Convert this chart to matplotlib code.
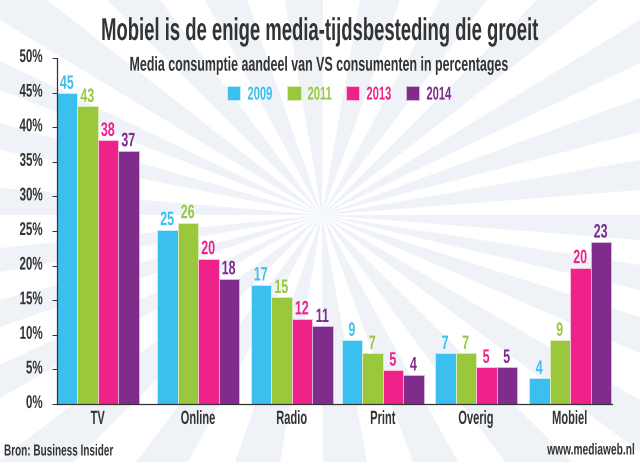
#!/usr/bin/env python3
"""Mobiel vs other media, share of US consumer media time."""
import numpy as np
import matplotlib
matplotlib.use("Agg")
import matplotlib.pyplot as plt
from matplotlib.patches import Wedge
from matplotlib.patheffects import AbstractPathEffect
from matplotlib.transforms import Affine2D

W, H = 640, 462
DARK = "#333333"

categories = ["TV", "Online", "Radio", "Print", "Overig", "Mobiel"]
years = ["2009", "2011", "2013", "2014"]
colors = ["#3bbfef", "#99c83d", "#ee2289", "#7f2c8c"]
edges = ["#c5ecfa", "#dcedb8", "#fac0dc", "#d5b5da"]

v2009 = [44.9, 25.2, 17.2, 9.2, 7.3, 3.7]
v2011 = [43.0, 26.2, 15.4, 7.3, 7.3, 9.2]
v2013 = [38.1, 21.0, 12.3, 4.9, 5.3, 19.7]
v2014 = [36.6, 18.1, 11.2, 4.2, 5.3, 23.4]

l2009 = ["45", "25", "17", "9", "7", "4"]
l2011 = ["43", "26", "15", "7", "7", "9"]
l2013 = ["38", "20", "12", "5", "5", "20"]
l2014 = ["37", "18", "11", "4", "5", "23"]

yticks = [0, 5, 10, 15, 20, 25, 30, 35, 40, 45, 50]

# left edge of each bar group and bar width, in pixels
group_left = [56.7, 157, 250.7, 341.7, 435, 529]
bar_w = 20.5

# background rays: where each one meets the picture border, clockwise from top left
ray_center = (322, 215)
ray_edges = [
    ((0, 20), (47, 0)), ((107, 0), (160, 0)), ((205, 0), (247, 0)), ((285, 0), (323, 0)),
    ((360, 0), (400, 0)), ((440, 0), (487, 0)), ((537, 0), (598, 0)),
    ((640, 20), (640, 63)), ((640, 98), (640, 132)), ((640, 160), (640, 190)),
    ((640, 215), (640, 240)), ((640, 265), (640, 290)), ((640, 317), (640, 353)),
    ((640, 400), (640, 452)),
    ((572, 462), (505, 462)), ((458, 462), (413, 462)), ((367, 462), (323, 462)),
    ((280, 462), (235, 462)), ((188, 462), (136, 462)), ((74, 462), (0, 460)),
    ((0, 398), (0, 365)), ((0, 327), (0, 300)), ((0, 272), (0, 248)),
    ((0, 215), (0, 188)), ((0, 150), (0, 123)), ((0, 90), (0, 61)),
]


class Squeeze(AbstractPathEffect):
    """No condensed font is installed, so reshape the glyphs at draw time."""

    def __init__(self, sx, ha, sy=1.0):
        super().__init__()
        self.sx = sx
        self.sy = sy
        self.ha = ha

    def draw_path(self, renderer, gc, tpath, affine, rgbFace=None):
        xs = tpath.vertices[:, 0]
        pivot = {"left": xs.min(), "center": (xs.min() + xs.max()) / 2, "right": xs.max()}[self.ha]
        sq = Affine2D().translate(-pivot, 0).scale(self.sx, self.sy).translate(pivot, 0)
        renderer.draw_path(gc, tpath, sq + affine, rgbFace)


def narrow(t, sx, sy=1.0):
    t.set_path_effects([Squeeze(sx, t.get_ha(), sy)])
    return t


def border_angle(p):
    return np.degrees(np.arctan2(p[1] - ray_center[1], p[0] - ray_center[0]))


plt.rcParams["font.family"] = ["Liberation Sans", "DejaVu Sans"]
plt.rcParams["font.weight"] = "bold"

fig = plt.figure(figsize=(W / 100, H / 100), dpi=100, facecolor="white")

# sunburst behind everything
bg = fig.add_axes([0, 0, 1, 1])
bg.set_xlim(0, W)
bg.set_ylim(H, 0)
bg.axis("off")
for p1, p2 in ray_edges:
    bg.add_patch(Wedge(ray_center, 800, border_angle(p1), border_angle(p2), color="#eff3f8", lw=0))

ax = fig.add_axes([56.7 / W, 1 - 404 / H, (612 - 56.7) / W, 346 / H])
ax.patch.set_alpha(0)
ax.set_xlim(56.7, 612)
ax.set_ylim(0, 50)

series = [v2009, v2011, v2013, v2014]
texts = [l2009, l2011, l2013, l2014]
left = np.array(group_left)
for i, (vals, labs) in enumerate(zip(series, texts)):
    xs = left + i * bar_w
    ax.bar(xs, vals, bar_w, align="edge", color=colors[i], edgecolor=edges[i],
           linewidth=0.7, label=years[i], clip_on=False)
    for x, v, t in zip(xs, vals, labs):
        narrow(ax.text(x + bar_w / 2, v + 0.65, t, ha="center", va="baseline",
                       color=colors[i], fontsize=14), 0.64)

for s in ["top", "right"]:
    ax.spines[s].set_visible(False)
for s in ["left", "bottom"]:
    ax.spines[s].set_color(DARK)
    ax.spines[s].set_linewidth(0.9)

ax.set_yticks(yticks)
ax.set_yticklabels([f"{t}%" for t in yticks], fontsize=13.2, color=DARK)
ax.tick_params(axis="y", length=3.6, width=0.72, color=DARK, pad=6.3)
ax.set_xticks(left + 2 * bar_w)
ax.set_xticklabels(categories, fontsize=13.8, color=DARK)
ax.tick_params(axis="x", length=0, pad=5)
for t in ax.get_yticklabels():
    narrow(t, 0.63)
    # labels sit a little above their ticks in the original
    t.set_transform(t.get_transform() + Affine2D().translate(0, 2.5))
for t in ax.get_xticklabels():
    narrow(t, 0.58)

leg = ax.legend(loc="center left", bbox_to_anchor=(227 / W, 1 - 95 / H),
                bbox_transform=fig.transFigure, ncol=4, frameon=False, fontsize=13.4,
                labelcolor=colors, handlelength=0.72, handleheight=0.72,
                handletextpad=0.38, columnspacing=-0.1, borderpad=0, borderaxespad=0)
for t in leg.get_texts():
    narrow(t, 0.6)

narrow(fig.text(320 / W, 1 - 40 / H, "Mobiel is de enige media-tijdsbesteding die groeit",
                ha="center", va="baseline", fontsize=19, color=DARK), 0.70, 1.195)
narrow(fig.text(320 / W, 1 - 70.7 / H, "Media consumptie aandeel van VS consumenten in percentages",
                ha="center", va="baseline", fontsize=12.3, color=DARK), 0.728, 1.18)
narrow(fig.text(4 / W, 1 - 451 / H, "Bron: Business Insider", ha="left", va="center",
                fontsize=11.5, color=DARK), 0.625)
narrow(fig.text(636 / W, 1 - 450 / H, "www.mediaweb.nl", ha="right", va="center",
                fontsize=11.5, color=DARK), 0.64)

fig.savefig("out.png", dpi=100)
